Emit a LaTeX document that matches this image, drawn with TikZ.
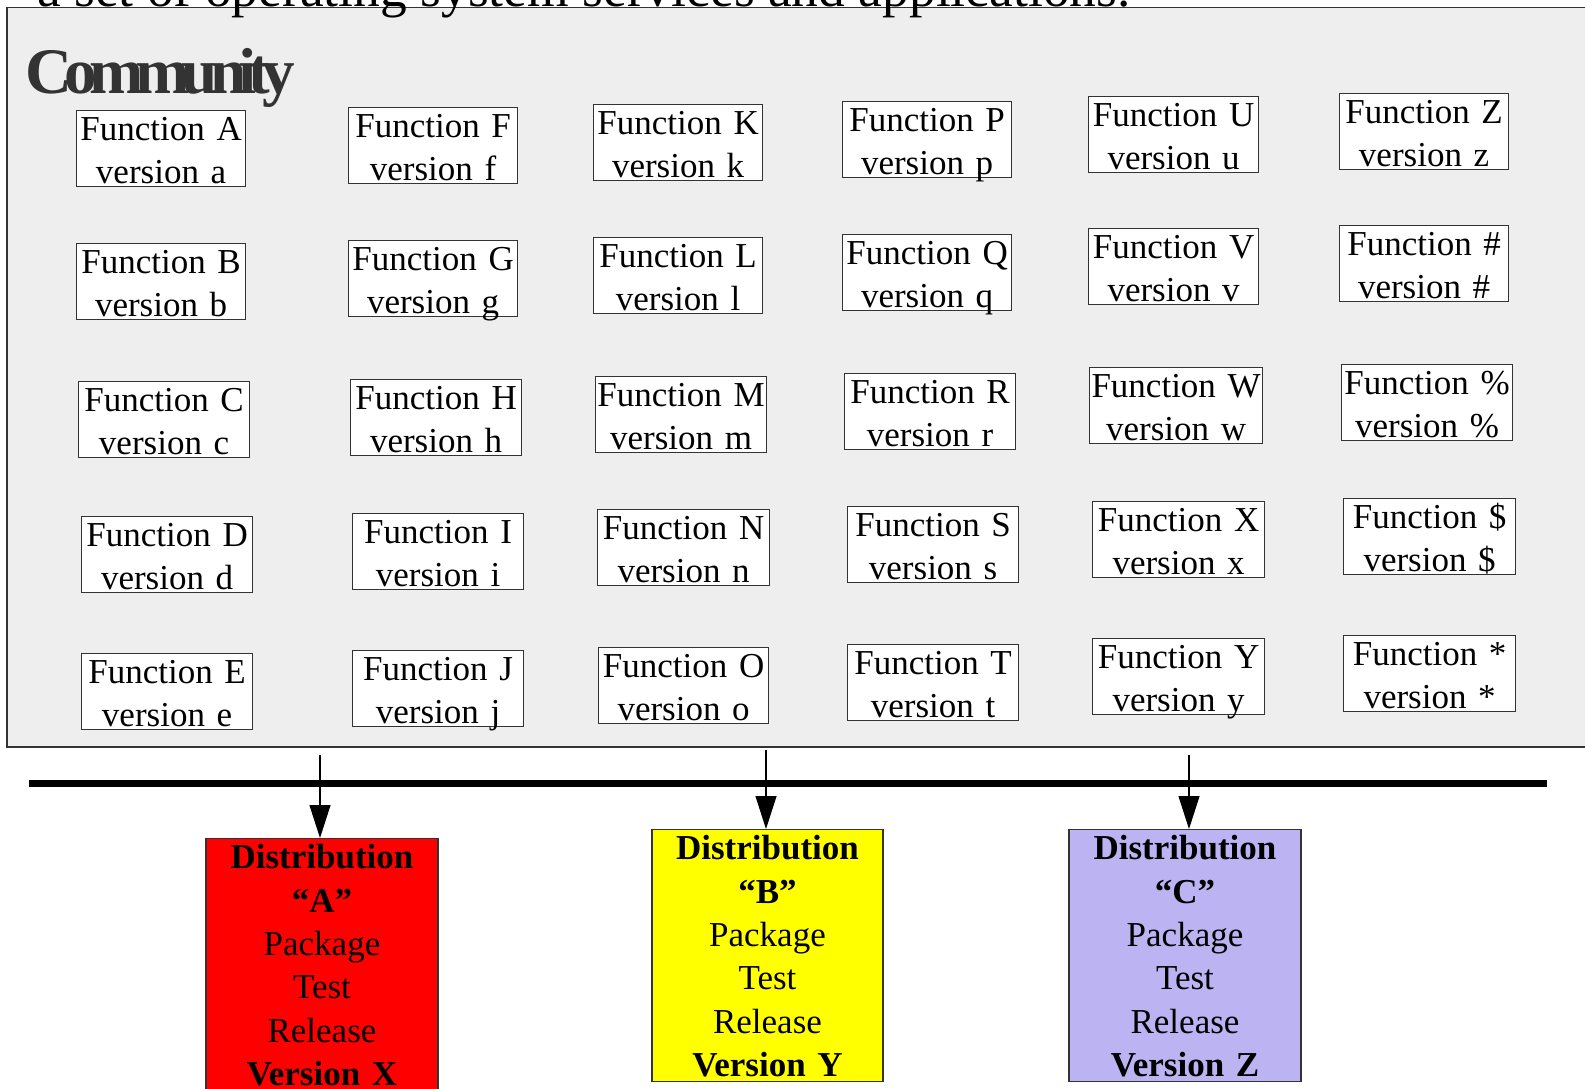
\documentclass[tikz,border=0pt]{standalone}
\usepackage{fontspec}
\setmainfont{Liberation Serif}
\newfontfamily\commfont[LetterSpace=-12.0]{Liberation Serif}
\usetikzlibrary{arrows.meta}
\usepackage{xcolor}
\definecolor{panelgrey}{HTML}{EEEEEE}
\definecolor{edgegrey}{HTML}{333333}
\definecolor{distred}{HTML}{FF0000}
\definecolor{distyellow}{HTML}{FFFF00}
\definecolor{distlilac}{HTML}{BBB3F2}

\tikzset{
  funcbox/.style={draw=edgegrey, line width=1.2pt, fill=white, inner sep=0pt,
    anchor=north west, align=center, text height=29.5pt, text depth=46.5pt,
    font=\fontsize{35}{43}\selectfont},
  distbox/.style={draw=edgegrey, line width=1.2pt, inner sep=0pt, anchor=north,
    align=center, text height=30pt, text depth=222pt,
    font=\fontsize{35}{43.4}\selectfont},
  feed/.style={-{Triangle[length=33pt,width=21pt]}, line width=1.2pt},
}

\begin{document}
\begin{tikzpicture}[x=1pt,y=-1pt]
  \useasboundingbox (0,0) rectangle (1585,1089);
  % Community panel
  \fill[panelgrey] (7,7.5) rectangle (1600,747);
  \draw[edgegrey,line width=1.5pt] (1600,7.5) -- (7,7.5) -- (7,747) -- (1600,747);
  % Heading running in from above
  \node[anchor=base west,inner sep=0pt,font=\fontsize{53.5}{60}\selectfont] (heading)
    at (37,7) {a set of operating system services and applications.};
  \node[anchor=base west,inner sep=0pt,text=edgegrey,font=\commfont\bfseries\fontsize{65}{70}\selectfont] (community)
    at (25,94) {Community};
  % Function boxes
  \foreach \n/\x/\y/\w/\up/\lo in {
      A/76/110/169pt/A/a, B/76/243/169pt/B/b, C/78/381/171pt/C/c,
      D/81/516/171pt/D/d, E/81/653/171pt/E/e,
      F/348/107/169pt/F/f, G/348/240/169pt/G/g, H/350/379/171pt/H/h,
      I/352/513/171pt/I/i, J/352/650/171pt/J/j,
      K/593/104/169pt/K/k, L/593/237/169pt/L/l, M/595/376/171pt/M/m,
      N/597/509/172pt/N/n, O/598/647/170pt/O/o,
      P/842/101/169pt/P/p, Q/842/234/169pt/Q/q, R/844/373/171pt/R/r,
      S/847/506/171pt/S/s, T/847/644/171pt/T/t,
      U/1088/96/170pt/U/u, V/1088/228/170pt/V/v, W/1089/367/173pt/W/w,
      X/1092/501/172pt/X/x, Y/1092/638/172pt/Y/y,
      Z/1339/93/169pt/Z/z, hash/1339/225/169pt/\#/\#, pct/1341/364/171pt/\%/\%,
      dol/1343/498/172pt/\$/\$, ast/1343/635/172pt/*/*}
    \node[funcbox,text width=\w] (f\n) at (\x,\y) {Function \up\\version \lo};
  % Release line
  \draw[line width=7.5pt] (29,783.5) -- (1547,783.5);
  % Distributions
  \node[distbox,fill=distred,text width=232pt] (dA) at (322,838)
    {\textbf{Distribution}\\\textbf{“A”}\\Package\\Test\\Release\\\textbf{Version X}};
  \node[distbox,fill=distyellow,text width=231pt] (dB) at (767.5,829)
    {\textbf{Distribution}\\\textbf{“B”}\\Package\\Test\\Release\\\textbf{Version Y}};
  \node[distbox,fill=distlilac,text width=232pt] (dC) at (1185,829)
    {\textbf{Distribution}\\\textbf{“C”}\\Package\\Test\\Release\\\textbf{Version Z}};
  % Feeds into each distribution
  \coordinate (sA) at (320,755);
  \coordinate (sB) at (766,750);
  \coordinate (sC) at (1189,755);
  \draw[feed] (sA) -- (sA |- dA.north);
  \draw[feed] (sB) -- (sB |- dB.north);
  \draw[feed] (sC) -- (sC |- dC.north);
\end{tikzpicture}
\end{document}
